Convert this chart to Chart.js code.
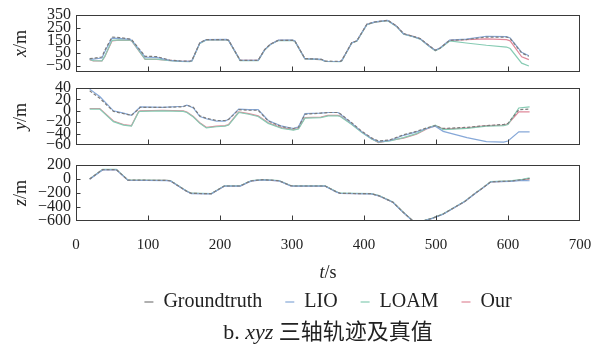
<!DOCTYPE html>
<html lang="zh">
<head>
<meta charset="utf-8">
<title>xyz 三轴轨迹及真值</title>
<script src="https://cdn.jsdelivr.net/npm/chart.js@4.4.1/dist/chart.umd.min.js"></script>
<style>
  html, body { margin: 0; padding: 0; background: #fff; }
  #fig { position: relative; width: 606px; height: 347px; overflow: hidden; background: #fff; }
  #fig canvas { position: absolute; left: 0; }
  #caption {
    position: absolute; left: 76px; width: 504px; top: 319px;
    text-align: center; color: #222; white-space: nowrap;
    font-family: "Liberation Serif", "Noto Sans CJK SC", serif;
    font-size: 22px; line-height: 25px;
  }
</style>
</head>
<body>
<div id="fig">
  <canvas id="panelX" width="606" height="80" style="top:0"></canvas>
  <canvas id="panelY" width="606" height="77" style="top:76px"></canvas>
  <canvas id="panelZ" width="606" height="197" style="top:150px"></canvas>
  <div id="caption">b. <i>xyz</i> 三轴轨迹及真值</div>
</div>
<script>
const seriesNames = ["Groundtruth", "LIO", "LOAM", "Our"];
const seriesColors = ["#7c7c7c", "#86a8d8", "#86cbb3", "#e0899a"];
const timeTicks = [0, 100, 200, 300, 400, 500, 600, 700];

// x/m
const tX = [19, 24, 36, 40, 50, 60, 75, 78, 96, 112, 130, 145, 158, 161, 172, 181, 209, 212, 228, 253, 262, 270, 281, 301, 304, 318, 341, 346, 367, 369, 383, 390, 404, 415, 433, 445, 455, 468, 478, 490, 499, 506, 519, 542, 570, 598, 603, 619, 629];
const gtX = [6, 8, 18, 71, 176, 172, 160, 150, 24, 22, -6, -13, -15, -10, 132, 156, 156, 150, -8, -8, 77, 120, 150, 150, 144, 6, 0, -14, -16, -10, 132, 145, 277, 295, 308, 265, 203, 182, 164, 110, 71, 90, 150, 156, 176, 176, 165, 50, 24];
const lioX = [4, 2, 10, 60, 168, 166, 158, 148, 18, 16, -8, -14, -16, -11, 130, 155, 157, 150, -7, -9, 75, 118, 151, 152, 145, 5, -1, -15, -17, -11, 130, 146, 275, 296, 307, 262, 200, 180, 162, 108, 72, 92, 152, 160, 182, 180, 168, 55, 28];
const loamX = [0, -10, -12, 25, 150, 154, 152, 142, 2, 2, -10, -16, -18, -13, 126, 153, 154, 147, -10, -10, 74, 117, 148, 149, 142, 3, -3, -16, -18, -13, 129, 143, 274, 293, 305, 260, 199, 179, 160, 106, 68, 88, 145, 129, 111, 97, 85, -30, -53];
const ourX = [-2, -13, -13, 20, 145, 152, 150, 140, 0, 0, -8, -14, -16, -12, 128, 154, 155, 148, -9, -8, 76, 119, 149, 150, 143, 4, -2, -15, -17, -12, 131, 144, 276, 294, 306, 263, 201, 181, 163, 109, 70, 89, 150, 156, 161, 156, 146, 20, -2];

// y/m
const tY = [19, 33, 52, 66, 77, 87, 89, 120, 149, 154, 163, 172, 181, 195, 207, 212, 226, 240, 253, 267, 286, 302, 309, 318, 340, 350, 364, 367, 383, 397, 411, 420, 436, 455, 473, 487, 499, 510, 543, 570, 594, 600, 615, 630];
const gtY = [35, 22, -1, -5, -8, 3, 6, 6, 7, 10, 6, -9, -13, -17, -17, -15, 2, 1, 1, -18, -28, -31, -29, -6, -4, -3, -3, -5, -21, -36, -48, -53, -51, -42, -36, -30, -26, -31, -29, -26, -24, -22, 2, 3];
const lioY = [38, 25, 0, -4, -8, 4, 7, 6, 8, 10, 5, -10, -14, -18, -18, -15, 3, 2, 2, -17, -27, -31, -28, -5, -4, -3, -3, -6, -22, -37, -49, -54, -52, -43, -37, -31, -27, -36, -47, -54, -55, -53, -37, -37];
const loamY = [3, 3, -19, -25, -27, -2, -1, 0, -1, -3, -11, -22, -30, -28, -27, -25, -3, -6, -10, -22, -31, -34, -32, -13, -12, -9, -9, -10, -24, -38, -50, -55, -53, -47, -40, -31, -25, -33, -31, -27, -26, -24, 5, 7];
const ourY = [4, 4, -18, -24, -26, -1, 0, 1, 0, -2, -10, -21, -29, -27, -26, -24, -2, -5, -9, -21, -30, -33, -31, -12, -11, -8, -8, -9, -23, -37, -49, -56, -52, -48, -41, -32, -26, -32, -30, -26, -25, -23, -2, -2];

// z/m
const tZ = [19, 37, 56, 72, 126, 131, 153, 160, 188, 201, 206, 228, 239, 244, 260, 282, 298, 303, 346, 362, 367, 410, 421, 440, 455, 468, 482, 495, 510, 530, 540, 555, 562, 576, 603, 620, 630];
const gtZ = [0, 135, 135, -15, -20, -25, -170, -205, -210, -130, -100, -100, -45, -25, -10, -25, -95, -100, -100, -185, -205, -210, -240, -330, -480, -600, -600, -560, -500, -380, -320, -200, -150, -40, -30, -10, 5];
const lioZ = [-5, 130, 132, -18, -22, -27, -172, -208, -212, -133, -103, -102, -48, -27, -12, -27, -97, -103, -102, -188, -207, -213, -243, -333, -483, -603, -602, -562, -503, -383, -322, -203, -152, -43, -33, -20, -25];
const loamZ = [2, 137, 137, -13, -18, -23, -168, -203, -208, -128, -98, -98, -43, -23, -8, -23, -93, -98, -98, -183, -203, -208, -238, -328, -478, -598, -598, -558, -498, -378, -318, -198, -148, -38, -28, -5, 15];
const ourZ = [0, 134, 134, -16, -21, -26, -171, -206, -211, -131, -101, -101, -46, -26, -11, -26, -96, -101, -101, -186, -206, -211, -241, -331, -481, -601, -601, -561, -501, -381, -321, -201, -151, -41, -31, -12, 0];

const yTicksX = [-50, 50, 150, 250, 350];
const yTicksY = [-60, -40, -20, 0, 20, 40];
const yTicksZ = [-600, -400, -200, 0, 200];

const SERIF = '"Liberation Serif", "Times New Roman", serif';

// text like "x/m": first part italic
function drawMixed(ctx, parts, cx, cy, rotate) {
  ctx.save();
  ctx.translate(cx, cy);
  if (rotate) ctx.rotate(-Math.PI / 2);
  ctx.fillStyle = "#222";
  ctx.textBaseline = "middle";
  ctx.textAlign = "left";
  const fonts = ["italic 18px " + SERIF, "18px " + SERIF];
  let w = 0;
  const widths = parts.map((p, i) => {
    ctx.font = fonts[i];
    const m = ctx.measureText(p).width;
    w += m;
    return m;
  });
  let x = -w / 2;
  parts.forEach((p, i) => {
    ctx.font = fonts[i];
    ctx.fillText(p, x, 0);
    x += widths[i];
  });
  ctx.restore();
}

// box round the plot, inner ticks, axis titles
const framePlugin = {
  id: "frame",
  afterDraw(chart, args, opts) {
    const { ctx, chartArea: a, scales } = chart;
    const L = Math.round(a.left) + 0.5, R = Math.round(a.right) - 0.5;
    const T = Math.round(a.top) + 0.5, B = Math.round(a.bottom) - 0.5;
    ctx.save();
    ctx.strokeStyle = "#3a3a3a";
    ctx.lineWidth = 1;
    ctx.setLineDash([]);
    ctx.strokeRect(L, T, R - L, B - T);
    ctx.beginPath();
    timeTicks.forEach((v) => {
      if (v <= scales.x.min || v >= scales.x.max) return;
      const x = Math.round(scales.x.getPixelForValue(v)) + 0.5;
      ctx.moveTo(x, B);
      ctx.lineTo(x, B - 5);
    });
    scales.y.ticks.forEach((tk) => {
      if (tk.value <= scales.y.min || tk.value >= scales.y.max) return;
      const y = Math.round(scales.y.getPixelForValue(tk.value)) + 0.5;
      ctx.moveTo(L, y);
      ctx.lineTo(L + 4, y);
    });
    ctx.stroke();
    ctx.restore();
    drawMixed(ctx, opts.yTitle, 21, (a.top + a.bottom) / 2, true);
    if (opts.xTitleY) drawMixed(ctx, ["t", "/s"], (a.left + a.right) / 2, opts.xTitleY, false);
  },
};

function makePanel(id, t, series, range, yTicks, yTitle, pad, isBottom) {
  const datasets = series.map((vals, i) => ({
    label: seriesNames[i],
    data: t.map((x, k) => ({ x: x, y: vals[k] })),
    borderColor: seriesColors[i],
    backgroundColor: seriesColors[i],
    borderWidth: 1.2,
    borderDash: i === 0 ? [3, 2] : [],
    pointRadius: 0,
    tension: 0,
    fill: false,
  }));

  return new Chart(document.getElementById(id), {
    type: "line",
    data: { datasets },
    options: {
      responsive: false,
      animation: false,
      events: [],
      layout: { padding: pad },
      scales: {
        x: {
          type: "linear",
          min: 0,
          max: 700,
          display: isBottom,
          grid: { display: false, drawTicks: false },
          border: { display: false },
          afterBuildTicks: (s) => { s.ticks = timeTicks.map((v) => ({ value: v })); },
          ticks: {
            padding: 15,
            color: "#222",
            autoSkip: false,
            maxRotation: 0,
            font: { family: SERIF, size: 15 },
          },
          afterFit: (s) => {
            s.height = isBottom ? 48 : 0;
            s.paddingLeft = 0;
            s.paddingRight = 0;
          },
        },
        y: {
          type: "linear",
          min: range[0],
          max: range[1],
          grid: { display: false, drawTicks: false },
          border: { display: false },
          afterBuildTicks: (s) => { s.ticks = yTicks.map((v) => ({ value: v })); },
          ticks: {
            padding: 5,
            color: "#222",
            autoSkip: false,
            font: { family: SERIF, size: 16 },
            callback: (v) => String(v).replace("-", "\u2212"),
          },
          afterFit: (s) => {
            s.width = 76;
            s.paddingTop = 0;
            s.paddingBottom = 0;
          },
        },
      },
      plugins: {
        legend: isBottom
          ? {
              display: true,
              position: "bottom",
              fullSize: false,
              labels: {
                usePointStyle: true,
                pointStyle: "line",
                pointStyleWidth: 9,
                padding: 23,
                color: "#222",
                font: { family: SERIF, size: 20 },
              },
            }
          : { display: false },
        tooltip: { enabled: false },
        frame: { yTitle: yTitle, xTitleY: isBottom ? 123 : 0 },
      },
    },
    plugins: [framePlugin],
  });
}

makePanel("panelX", tX, [gtX, lioX, loamX, ourX], [-100, 350], yTicksX, ["x", "/m"],
  { top: 15, right: 26, bottom: 8, left: 0 }, false);
makePanel("panelY", tY, [gtY, lioY, loamY, ourY], [-60, 40], yTicksY, ["y", "/m"],
  { top: 12, right: 26, bottom: 8, left: 0 }, false);
makePanel("panelZ", tZ, [gtZ, lioZ, loamZ, ourZ], [-600, 200], yTicksZ, ["z", "/m"],
  { top: 15, right: 26, bottom: 25, left: 0 }, true);
</script>
</body>
</html>
